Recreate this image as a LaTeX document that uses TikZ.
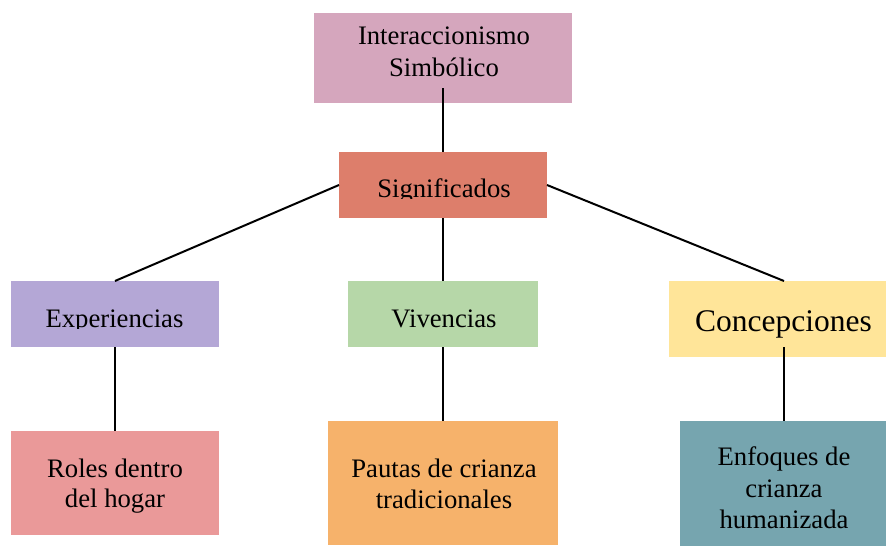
\documentclass[tikz,border=0pt]{standalone}
\usepackage{fontspec}
\setmainfont{Liberation Serif}
\definecolor{cTop}{HTML}{D5A6BD}
\definecolor{cSig}{HTML}{DD7E6B}
\definecolor{cExp}{HTML}{B4A7D6}
\definecolor{cViv}{HTML}{B6D7A8}
\definecolor{cCon}{HTML}{FFE599}
\definecolor{cRol}{HTML}{EA9999}
\definecolor{cPau}{HTML}{F6B26B}
\definecolor{cEnf}{HTML}{76A5AF}
\tikzset{
  box/.style={rectangle, draw=none, inner sep=0pt, outer sep=0pt},
  txt/.style={inner sep=0pt, outer sep=0pt, anchor=base, font=\fontsize{26.7}{31}\selectfont},
  bigtxt/.style={inner sep=0pt, outer sep=0pt, anchor=base, font=\fontsize{31.5}{36}\selectfont},
  link/.style={draw=black, line width=2pt}
}
\begin{document}
\begin{tikzpicture}[x=1pt, y=-1pt]
\clip (0,0) rectangle (886,546);
\fill[white] (0,0) rectangle (886,546);
% boxes
\node[box, fill=cTop, minimum width=258pt, minimum height=90pt] (top) at (443,58) {};
\node[box, fill=cSig, minimum width=208pt, minimum height=66pt] (sig) at (443,185) {};
\node[box, fill=cExp, minimum width=208pt, minimum height=66pt] (exp) at (115,314) {};
\node[box, fill=cViv, minimum width=190pt, minimum height=66pt] (viv) at (443,314) {};
\node[box, fill=cCon, minimum width=230pt, minimum height=76pt] (con) at (784,319) {};
\node[box, fill=cRol, minimum width=208pt, minimum height=104pt] (rol) at (115,483) {};
\node[box, fill=cPau, minimum width=230pt, minimum height=124pt] (pau) at (443,483) {};
\node[box, fill=cEnf, minimum width=208pt, minimum height=126pt] (enf) at (784,484) {};
% texts
\node[txt] (t1a) at (444,44) {Interaccionismo};
\node[txt] (t1b) at (444,76) {Simbólico};
\begin{scope}
\clip (339,152) rectangle (547,198);
\node[txt] (t2) at (444,197) {Significados};
\end{scope}
\begin{scope}
\clip (11,281) rectangle (219,328);
\node[txt] (t3) at (114.5,327) {Experiencias};
\end{scope}
\node[txt] (t4) at (444,327) {Vivencias};
\node[bigtxt] (t5) at (783.5,331) {Concepciones};
\node[txt] (t6a) at (115,477) {Roles dentro};
\node[txt] (t6b) at (115,507) {del hogar};
\node[txt] (t7a) at (444,477) {Pautas de crianza};
\node[txt] (t7b) at (444,508) {tradicionales};
\node[txt] (t8a) at (784,465) {Enfoques de};
\node[txt] (t8b) at (784,497) {crianza};
\node[txt] (t8c) at (784,528) {humanizada};
% connector start points
\coordinate (topout) at (443,88);
\coordinate (conout) at (784,347);
% connectors
\draw[link] (topout) -- (sig.north);
\draw[link] (sig.west) -- (exp.north);
\draw[link] (sig.east) -- (con.north);
\draw[link] (sig.south) -- (viv.north);
\draw[link] (exp.south) -- (rol.north);
\draw[link] (viv.south) -- (pau.north);
\draw[link] (conout) -- (enf.north);
\end{tikzpicture}
\end{document}
